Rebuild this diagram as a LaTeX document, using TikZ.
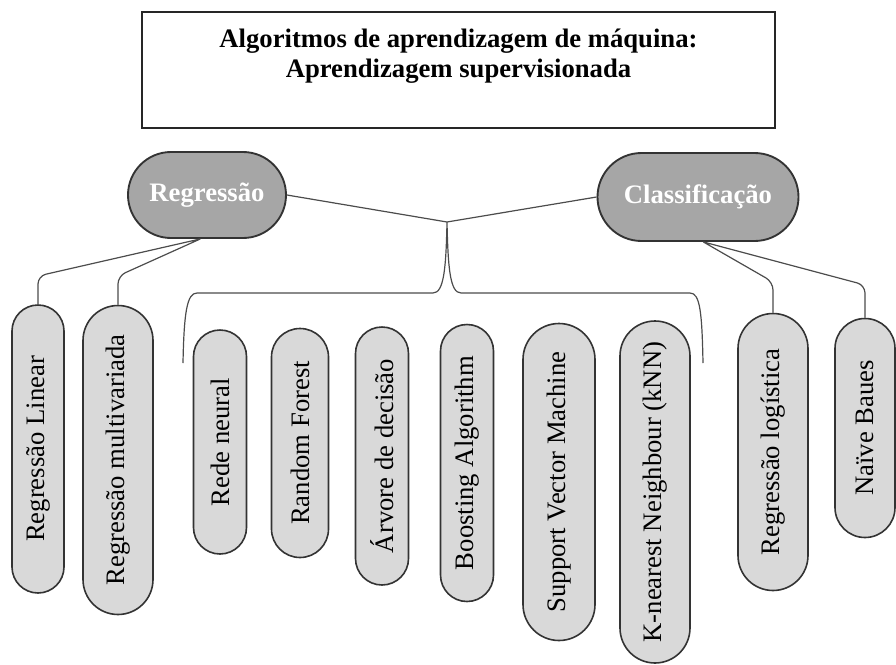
\documentclass[tikz,border=0pt]{standalone}
\usepackage{fontspec}
\setmainfont{Liberation Serif}
\usetikzlibrary{shapes.misc}
\begin{document}
\begin{tikzpicture}[x=0.75pt, y=-0.75pt,
    leaf/.style={rounded rectangle, draw=black!80, line width=1.2pt, fill=black!15,
      rotate=90, inner sep=0pt, font=\fontsize{20}{24}\selectfont},
    group/.style={rounded rectangle, draw=black!80, line width=1.4pt, fill=black!35,
      text=white, inner sep=0pt, font=\fontsize{20}{24}\selectfont\bfseries},
    conn/.style={draw=black!70, line width=0.9pt}]
    \useasboundingbox (0,0) rectangle (896,664);
    % Titel
    \node[draw=black!85, line width=1.4pt, minimum width=474.75pt, minimum height=87pt] (title) at (458.5,70) {};
    \node[anchor=north, align=center, inner sep=0pt, font=\fontsize{20}{22.5}\selectfont\bfseries] (titletext) at (458.5,29)
        {Algoritmos de aprendizagem de máquina:\\Aprendizagem supervisionada};
    % Grupos
    \node[group, minimum width=118.5pt, minimum height=64.5pt] (reg) at (207,195) {Regressão};
    \node[group, minimum width=150.75pt, minimum height=66pt] (cls) at (698,197) {Classificação};
    % Algoritmos
    \node[leaf, minimum width=216pt, minimum height=39pt] (regLin) at (38,449) {Regressão Linear};
    \node[leaf, minimum width=231.75pt, minimum height=52.5pt] (regMulti) at (118,460) {Regressão multivariada};
    \node[leaf, minimum width=168pt, minimum height=39.75pt] (rede) at (220,442) {Rede neural};
    \node[leaf, minimum width=171.75pt, minimum height=42.75pt] (forest) at (300,443) {Random Forest};
    \node[leaf, minimum width=193.5pt, minimum height=39.75pt] (arvore) at (382,456) {Árvore de decisão};
    \node[leaf, minimum width=207.75pt, minimum height=39.75pt] (boost) at (467,463) {Boosting Algorithm};
    \node[leaf, minimum width=237.75pt, minimum height=54pt] (svm) at (559,482) {Support Vector Machine};
    \node[leaf, minimum width=256.5pt, minimum height=52.5pt] (knn) at (655,492) {K-nearest Neighbour (kNN)};
    \node[leaf, minimum width=207.75pt, minimum height=52.5pt] (regLog) at (773,452) {Regressão logística};
    \node[leaf, minimum width=164.25pt, minimum height=45pt] (naive) at (865,428) {Naïve Baues};
    % Chave
    \coordinate (hub) at (447,222);
    \coordinate (braceL) at (183,363);
    \coordinate (braceR) at (703,363);
    \draw[conn] (reg.east) -- (hub) -- (cls.west);
    \draw[conn]
    (hub) .. controls (446,268) and (444,293) .. (433,293)
    -- (197,293) .. controls (187,293) and (184,312) .. (braceL)
    (hub) .. controls (448,268) and (450,293) .. (461,293)
    -- (690,293) .. controls (700,293) and (702,312) .. (braceR);
    % Ligacoes
    \draw[conn, rounded corners=6pt]
    ([xshift=-5pt]reg.south) -- (regLin.east |- 0,276) -- (regLin.east)
    ([xshift=-5pt]reg.south) -- (regMulti.east |- 0,276) -- (regMulti.east)
    ([xshift=4pt]cls.south) -- (regLog.east |- 0,282) -- (regLog.east)
    ([xshift=4pt]cls.south) -- (naive.east |- 0,285) -- (naive.east);
\end{tikzpicture}
\end{document}
